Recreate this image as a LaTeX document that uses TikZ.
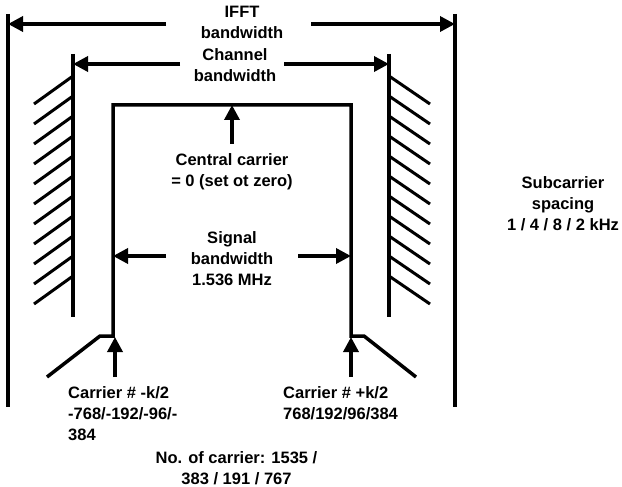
\documentclass[tikz,border=0pt]{standalone}
\usepackage{fontspec}
\setmainfont{Liberation Sans}
\newfontfamily\lsbold{Liberation Sans Bold}
\usetikzlibrary{arrows.meta}
\tikzset{
  lbl/.style={font=\lsbold\fontsize{16.5}{21}\selectfont, align=center, inner sep=0pt},
  lbll/.style={font=\lsbold\fontsize{16.5}{21}\selectfont, align=left, inner sep=0pt, anchor=north west},
  wall/.style={line width=3.5pt},
  arr/.style={line width=3.5pt, -{Triangle[length=15pt,width=15pt]}},
  hatchline/.style={line width=3pt},
}
\begin{document}
\begin{tikzpicture}[x=1pt,y=-1pt]
\useasboundingbox (0,0) rectangle (622,487);
% coordinates
\coordinate (oLt) at (8,14);  \coordinate (oLb) at (8,407);
\coordinate (oRt) at (455,14); \coordinate (oRb) at (455,407);
\coordinate (cLt) at (73,54);  \coordinate (cLb) at (73,317);
\coordinate (cRt) at (389,54); \coordinate (cRb) at (389,317);
\coordinate (fL) at (47,377); \coordinate (kL) at (100,336); \coordinate (sLb) at (113,336);
\coordinate (sLt) at (113,105); \coordinate (sRt) at (351,105); \coordinate (sRb) at (351,336);
\coordinate (kR) at (364,336); \coordinate (fR) at (416,377);
\coordinate (iA) at (166,24); \coordinate (iB) at (311,24);
\coordinate (iL) at (8,24); \coordinate (iR) at (455,24);
\coordinate (chA) at (180,64); \coordinate (chB) at (284,64);
\coordinate (chL) at (73,64); \coordinate (chR) at (389,64);
\coordinate (ccA) at (232,144); \coordinate (ccT) at (232,105);
\coordinate (sgA) at (166,256); \coordinate (sgB) at (298,256);
\coordinate (sgL) at (113,256); \coordinate (sgR) at (351,256);
\coordinate (kaL) at (115,377); \coordinate (kbL) at (115,337);
\coordinate (kaR) at (351,377); \coordinate (kbR) at (351,337);
% labels
\node[lbl] (ifft) at (242,22) {IFFT\\bandwidth};
\node[lbl] (chan) at (235,65) {Channel\\bandwidth};
\node[lbl] (central) at (232,172) {Central carrier\\= 0 (set ot zero)};
\node[lbl] (signal) at (232,259) {Signal\\bandwidth\\1.536 MHz};
\node[lbl] (sub) at (563,204) {Subcarrier\\spacing\\1 / 4 / 8 / 2 kHz};
\node[lbll] (carrL) at (68,386) {Carrier \# -k/2\\-768/-192/-96/-\\384};
\node[lbll] (carrR) at (283,386) {Carrier \# +k/2\\768/192/96/384};
\node[lbl] (nocar) at (236.5,468) {No. of carrier: 1535 /\\383 / 191 / 767};
% walls
\draw[wall] (oLt) -- (oLb);
\draw[wall] (oRt) -- (oRb);
\draw[wall] (cLt) -- (cLb);
\draw[wall] (cRt) -- (cRb);
\draw[wall] (fL) -- (kL) -- (sLb) -- (sLt) -- (sRt) -- (sRb) -- (kR) -- (fR);
% hatching
\foreach \y in {104,124,...,304}{
  \draw[hatchline] (34,\y) -- (73,\y-28);
  \draw[hatchline] (389,\y-28) -- (430,\y);
}
% arrows
\draw[arr] (iA) -- (iL);
\draw[arr] (iB) -- (iR);
\draw[arr] (chA) -- (chL);
\draw[arr] (chB) -- (chR);
\draw[arr] (ccA) -- (ccT);
\draw[arr] (sgA) -- (sgL);
\draw[arr] (sgB) -- (sgR);
\draw[arr] (kaL) -- (kbL);
\draw[arr] (kaR) -- (kbR);
\end{tikzpicture}
\end{document}
